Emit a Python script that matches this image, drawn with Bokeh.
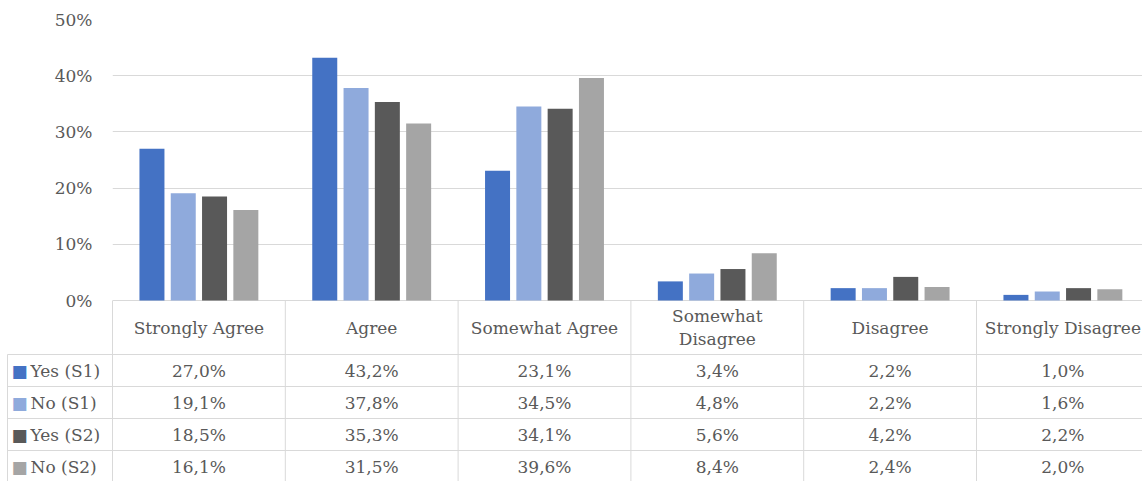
from bokeh.plotting import figure
from bokeh.models import Range1d, FixedTicker, PrintfTickFormatter, ColumnDataSource
from bokeh.core.properties import value
from bokeh.embed import file_html
from bokeh.resources import INLINE

# ---- data ----
categories = ["Strongly Agree", "Agree", "Somewhat Agree", "Somewhat\nDisagree", "Disagree", "Strongly Disagree"]
series = ["Yes (S1)", "No (S1)", "Yes (S2)", "No (S2)"]
yes_s1 = [27.0, 43.2, 23.1, 3.4, 2.2, 1.0]
no_s1 = [19.1, 37.8, 34.5, 4.8, 2.2, 1.6]
yes_s2 = [18.5, 35.3, 34.1, 5.6, 4.2, 2.2]
no_s2 = [16.1, 31.5, 39.6, 8.4, 2.4, 2.0]
y_ticks = [0, 10, 20, 30, 40, 50]
colors = ["#4472C4", "#8FAADC", "#595959", "#A5A5A5"]
values_by_series = [yes_s1, no_s1, yes_s2, no_s2]

# ---- style / layout ----
FONT = "DejaVu Serif"
TXT = "#595959"
GRID = "#D9D9D9"
FS = "17px"

W, H = 1142, 481
LEFT = 112
TOP = 19
ZERO_Y = 300
COL = 172.8
px_per = (ZERO_Y - TOP) / max(y_ticks)

x_end = (W - LEFT) / COL
y_start = -(H - ZERO_Y) / px_per
TBL_BOTTOM = -(H - ZERO_Y)

HDR = 54
ROW = 32
LEG_LEFT = -105 / COL
SQ_X = -93 / COL
TXT_X = -82 / COL

PITCH = 31.3 / COL
BAR_W = 25 / COL

p = figure(width=W, height=H, output_backend="svg", toolbar_location=None,
           x_range=Range1d(0, x_end), y_range=Range1d(y_start, max(y_ticks)),
           x_axis_location=None,
           min_border_left=LEFT, min_border_right=0, min_border_top=TOP, min_border_bottom=0)
p.outline_line_color = None
p.background_fill_color = "white"
p.border_fill_color = "white"
p.xgrid.grid_line_color = None

p.yaxis.ticker = FixedTicker(ticks=y_ticks)
p.yaxis.formatter = PrintfTickFormatter(format="%d%%")
p.yaxis.axis_line_color = None
p.yaxis.major_tick_line_color = None
p.yaxis.minor_tick_line_color = None
p.yaxis.major_tick_out = 0
p.yaxis.major_tick_in = 0
p.yaxis.major_label_standoff = 20
p.yaxis.major_label_text_font = FONT
p.yaxis.major_label_text_font_size = FS
p.yaxis.major_label_text_color = TXT
p.ygrid.ticker = FixedTicker(ticks=y_ticks)
p.ygrid.grid_line_color = GRID
p.ygrid.grid_line_width = 1

# ---- bars ----
n = len(categories)
for j, vals in enumerate(values_by_series):
    off = (j - (len(series) - 1) / 2) * PITCH
    src = ColumnDataSource(dict(x=[i + 0.5 + off for i in range(n)], top=vals))
    p.vbar(x="x", top="top", bottom=0, width=BAR_W, source=src,
           fill_color=colors[j], line_color=None)

# ---- data table ----
p.extra_y_ranges = {"tbl": Range1d(TBL_BOTTOM, ZERO_Y - TOP)}

p.line(x=[x_end + 1, LEG_LEFT, LEG_LEFT], y=[-HDR, -HDR, TBL_BOTTOM - 5],
       y_range_name="tbl", line_color=GRID, line_width=1, level="overlay")
hy = [-HDR - k * ROW for k in range(1, len(series))]
p.segment(x0=[LEG_LEFT] * len(hy), y0=hy, x1=[x_end + 1] * len(hy), y1=hy,
          y_range_name="tbl", line_color=GRID, line_width=1, level="overlay")
vx = list(range(n + 1))
p.segment(x0=vx, y0=[0] * len(vx), x1=vx, y1=[TBL_BOTTOM - 5] * len(vx),
          y_range_name="tbl", line_color=GRID, line_width=1, level="overlay")

# header (category names)
p.text(x=[i + 0.5 for i in range(n)], y=[-HDR / 2] * n, text=categories,
       y_range_name="tbl", text_font=value(FONT), text_font_size=FS,
       text_color=TXT, text_align="center", text_baseline="middle",
       text_line_height=1.18, level="overlay")

# values
for j, vals in enumerate(values_by_series):
    yc = -HDR - (j + 0.5) * ROW
    labels = [f"{v:.1f}%".replace(".", ",") for v in vals]
    p.text(x=[i + 0.5 for i in range(n)], y=[yc] * n, text=labels,
           y_range_name="tbl", text_font=value(FONT), text_font_size=FS,
           text_color=TXT, text_align="center", text_baseline="middle",
           level="overlay")

# legend column
ly = [-HDR - (j + 0.5) * ROW for j in range(len(series))]
p.text(x=[TXT_X] * len(series), y=ly, text=series, y_range_name="tbl",
       text_font=value(FONT), text_font_size=FS, text_color=TXT,
       text_align="left", text_baseline="middle", level="overlay")
p.text(x=[SQ_X] * len(series), y=ly, text=["\u25A0"] * len(series), y_range_name="tbl",
       text_font=value("DejaVu Sans"), text_font_size="17px", text_color=colors,
       text_align="center", text_baseline="middle", level="overlay")

open("out.html", "w").write(file_html(p, INLINE))
